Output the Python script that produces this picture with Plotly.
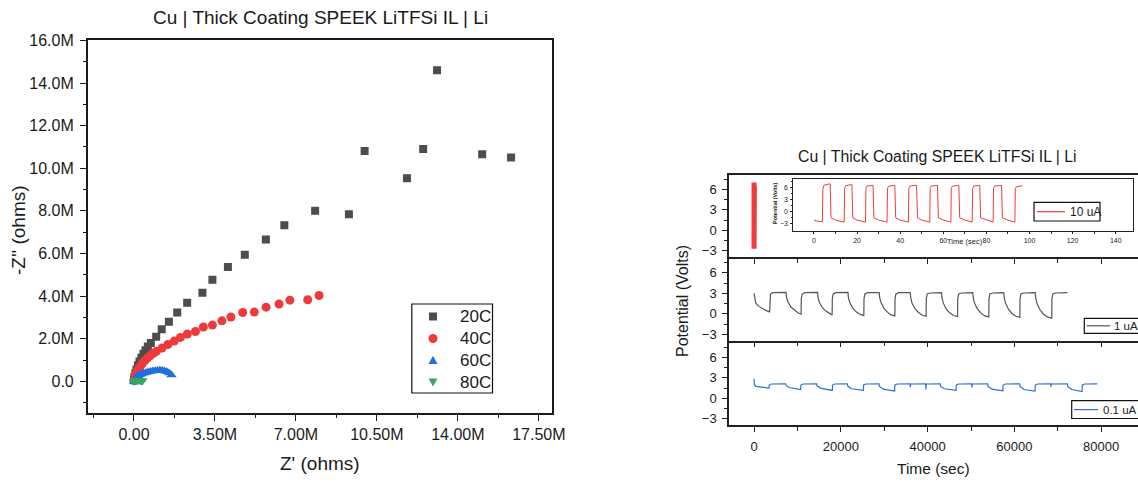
import plotly.graph_objects as go

W, H = 1138, 482
def fx(px): return px / W
def fy(py): return 1 - py / H

FONT = "Arial, 'Liberation Sans', sans-serif"
TXT = "#1a1a1a"

# ---------------- Left panel: Nyquist data (Z' and -Z'' in Mohm) ----------------
re20 = [0.00, 0.02, 0.06, 0.11, 0.17, 0.24, 0.32, 0.41, 0.50, 0.60,
        0.73, 0.96, 1.20, 1.51, 1.87, 2.30, 2.96, 3.39, 4.06, 4.79,
        5.70, 6.50, 7.83, 9.29, 9.97, 11.80, 12.50, 13.10, 15.05, 16.30]
im20 = [0.05, 0.20, 0.38, 0.56, 0.75, 0.93, 1.11, 1.29, 1.46, 1.63,
        1.80, 2.09, 2.44, 2.80, 3.23, 3.69, 4.16, 4.77, 5.36, 5.94,
        6.66, 7.33, 8.00, 7.84, 10.81, 9.53, 10.90, 14.60, 10.66, 10.50]

re40 = [0.00, 0.03, 0.08, 0.14, 0.21, 0.29, 0.37, 0.47, 0.58, 0.70,
        0.83, 0.97, 1.21, 1.47, 1.74, 2.01, 2.31, 2.66, 3.00, 3.39,
        3.80, 4.19, 4.70, 5.20, 5.71, 6.27, 6.74, 7.51, 8.00]
im40 = [0.05, 0.18, 0.33, 0.47, 0.60, 0.73, 0.85, 0.97, 1.09, 1.20,
        1.31, 1.41, 1.56, 1.73, 1.89, 2.06, 2.22, 2.34, 2.55, 2.64,
        2.84, 3.02, 3.23, 3.25, 3.48, 3.63, 3.81, 3.83, 4.03]

re60 = [0.00, 0.03, 0.07, 0.12, 0.18, 0.25, 0.33, 0.42, 0.52, 0.62,
        0.72, 0.82, 0.92, 1.02, 1.12, 1.22, 1.32, 1.42, 1.52, 1.62]
im60 = [0.00, 0.08, 0.15, 0.21, 0.26, 0.31, 0.35, 0.38, 0.41, 0.44,
        0.46, 0.48, 0.50, 0.51, 0.52, 0.51, 0.49, 0.45, 0.39, 0.30]

re80 = [0.00, 0.04, 0.08, 0.12, 0.16, 0.20, 0.24, 0.28, 0.32, 0.36]
im80 = [0.00, 0.02, 0.03, 0.04, 0.05, 0.05, 0.05, 0.04, 0.03, 0.02]

series_names = ["20C", "40C", "60C", "80C"]

nyq_xticks = [0, 3.5, 7, 10.5, 14, 17.5]
nyq_xlabels = ["0.00", "3.50M", "7.00M", "10.50M", "14.00M", "17.50M"]
nyq_yticks = [0, 2, 4, 6, 8, 10, 12, 14, 16]
nyq_ylabels = ["0.0", "2.0M", "4.0M", "6.0M", "8.0M", "10.0M", "12.0M", "14.0M", "16.0M"]

# ---------------- Right panel: potential vs time ----------------
# 10 uA (seconds, volts)
t10 = [0.0, 1.0, 3.9,
       4.1, 4.6, 7.5, 7.9, 10.0, 14.0,
       14.2, 14.7, 17.6, 18.0, 20.0, 23.9,
       24.1, 24.6, 27.4, 27.8, 30.0, 33.9,
       34.1, 34.6, 37.5, 37.9, 40.0, 43.8,
       44.0, 44.5, 47.6, 48.0, 50.0, 53.7,
       53.9, 54.4, 57.3, 57.7, 60.0, 63.5,
       63.7, 64.2, 67.2, 67.6, 70.0, 73.4,
       73.6, 74.1, 76.9, 77.3, 80.0, 83.1,
       83.3, 83.8, 87.0, 87.4, 90.0, 93.2,
       93.4, 93.9, 96.8]
v10 = [-2.2, -2.4, -2.6,
       5.6, 6.6, 7.0, -1.6, -2.2, -2.7,
       5.8, 6.5, 6.8, -1.6, -2.2, -2.7,
       5.8, 6.4, 6.6, -1.6, -2.2, -2.7,
       5.8, 6.4, 6.6, -1.6, -2.2, -2.7,
       5.8, 6.4, 6.6, -1.6, -2.2, -2.7,
       5.8, 6.4, 6.6, -1.6, -2.2, -2.7,
       5.8, 6.4, 6.6, -1.6, -2.2, -2.7,
       5.8, 6.4, 6.6, -1.6, -2.2, -2.7,
       5.8, 6.4, 6.6, -1.6, -2.2, -2.7,
       5.8, 6.2, 6.5]

# 1 uA
t1 = [0, 150, 400, 900, 1800, 2700, 3600,
      3650, 3800, 4300, 7400,
      7500, 7800, 8500, 9300, 10100, 10850,
      10900, 11100, 11700, 14650,
      14750, 15050, 15750, 16550, 17300, 18000,
      18050, 18250, 18900, 21650,
      21750, 22050, 22750, 23550, 24400, 25300,
      25350, 25550, 26200, 28850,
      28950, 29250, 29950, 30750, 31600, 32450,
      32500, 32700, 33350, 36000,
      36100, 36400, 37100, 37900, 38800, 39650,
      39700, 39900, 40550, 43200,
      43300, 43600, 44300, 45100, 46000, 46900,
      46950, 47150, 47800, 50400,
      50500, 50800, 51500, 52300, 53200, 54100,
      54150, 54350, 55000, 57550,
      57650, 57950, 58650, 59450, 60350, 61250,
      61300, 61500, 62150, 64800,
      64900, 65200, 65900, 66700, 67600, 68600,
      68650, 68850, 69500, 72200]
v1 = [3.0, 2.2, 1.6, 1.2, 0.8, 0.5, 0.3,
      2.2, 2.9, 3.1, 3.15,
      2.4, 1.8, 1.0, 0.5, 0.15, -0.05,
      2.2, 2.9, 3.1, 3.15,
      2.4, 1.7, 0.9, 0.4, 0.05, -0.15,
      2.2, 2.9, 3.1, 3.15,
      2.4, 1.7, 0.85, 0.3, -0.05, -0.25,
      2.2, 2.9, 3.1, 3.1,
      2.4, 1.7, 0.8, 0.25, -0.15, -0.3,
      2.2, 2.9, 3.1, 3.1,
      2.4, 1.6, 0.75, 0.2, -0.2, -0.35,
      2.2, 2.9, 3.05, 3.1,
      2.4, 1.6, 0.7, 0.15, -0.25, -0.4,
      2.2, 2.9, 3.05, 3.1,
      2.4, 1.6, 0.7, 0.1, -0.3, -0.45,
      2.2, 2.9, 3.05, 3.1,
      2.4, 1.6, 0.65, 0.05, -0.35, -0.5,
      2.2, 2.9, 3.05, 3.1,
      2.4, 1.5, 0.6, -0.05, -0.45, -0.65,
      2.2, 2.9, 3.05, 3.1]

# 0.1 uA
t01 = [0, 80, 400, 1500, 3450,
       3500, 4000, 7300,
       7400, 8300, 10750,
       10800, 11300, 14450,
       14550, 15500, 18050,
       18100, 18600, 21500,
       21600, 22500, 25200,
       25250, 25800, 28800,
       28900, 29800, 32400,
       32450, 33000, 35950,
       36000, 36100, 39550,
       39600, 39700, 42900,
       43000, 43900, 46550,
       46600, 47100, 50150,
       50200, 50300, 53850,
       53950, 54800, 57350,
       57400, 57900, 61200,
       61300, 62200, 64750,
       64800, 65300, 68350,
       68400, 68500, 72200,
       72300, 73200, 75600,
       75650, 76200, 79100]
v01 = [2.85, 2.0, 1.75, 1.62, 1.5,
       1.95, 2.1, 2.13,
       1.85, 1.55, 1.3,
       1.95, 2.1, 2.13,
       1.8, 1.45, 1.16,
       1.95, 2.1, 2.13,
       1.8, 1.4, 1.16,
       1.95, 2.1, 2.13,
       1.75, 1.35, 1.06,
       1.95, 2.1, 2.13,
       1.65, 2.1, 2.12,
       1.3, 2.1, 2.12,
       1.75, 1.4, 1.16,
       1.95, 2.1, 2.12,
       1.6, 2.1, 2.12,
       1.75, 1.35, 1.1,
       1.95, 2.1, 2.12,
       1.75, 1.3, 1.05,
       1.95, 2.1, 2.12,
       1.7, 2.1, 2.12,
       1.75, 1.3, 1.0,
       1.95, 2.1, 2.12]

time_ticks = [0, 20000, 40000, 60000, 80000]
time_labels = ["0", "20000", "40000", "60000", "80000"]
time_minor = [10000, 30000, 50000, 70000]
volt_ticks = [-3, 0, 3, 6]
volt_minor = [-1.5, 1.5, 4.5, 7.5]
inset_ticks = [0, 20, 40, 60, 80, 100, 120, 140]
inset_minor = [10, 30, 50, 70, 90, 110, 130]

C20, C40, C60, C80 = "#4d4d4d", "#ee3a3a", "#1f6fdf", "#34a863"
C10u, C1u, C01u = "#f03c3c", "#555555", "#2a6fdb"

fig = go.Figure()

# ---- left traces
fig.add_trace(go.Scatter(x=re20, y=im20, mode="markers", name=series_names[0],
                         marker=dict(symbol="square", size=8, color=C20), xaxis="x", yaxis="y"))
fig.add_trace(go.Scatter(x=re40, y=im40, mode="markers", name=series_names[1],
                         marker=dict(symbol="circle", size=9, color=C40), xaxis="x", yaxis="y"))
fig.add_trace(go.Scatter(x=re60, y=im60, mode="markers", name=series_names[2],
                         marker=dict(symbol="triangle-up", size=9, color=C60), xaxis="x", yaxis="y"))
fig.add_trace(go.Scatter(x=re80, y=im80, mode="markers", name=series_names[3],
                         marker=dict(symbol="triangle-down", size=9, color=C80), xaxis="x", yaxis="y"))

# ---- right traces
fig.add_trace(go.Scatter(x=t10, y=v10, mode="lines", line=dict(color=C10u, width=5),
                         name="10 uA", xaxis="x4", yaxis="y4"))
fig.add_trace(go.Scatter(x=t1, y=v1, mode="lines", line=dict(color=C1u, width=1.2),
                         name="1 uA", xaxis="x3", yaxis="y3"))
fig.add_trace(go.Scatter(x=t01, y=v01, mode="lines", line=dict(color=C01u, width=1.2),
                         name="0.1 uA", xaxis="x2", yaxis="y2"))
fig.add_trace(go.Scatter(x=t10, y=v10, mode="lines", line=dict(color=C10u, width=1),
                         name="10 uA inset", xaxis="x5", yaxis="y5"))

axcol = "#1a1a1a"
left_x = dict(domain=[fx(87.7), fx(551.8)], range=[-2.0, 18.06], showline=True, mirror=True,
              linecolor=axcol, linewidth=1.5, ticks="outside", ticklen=6, tickwidth=1.2,
              tickcolor=axcol, tickmode="array", tickvals=nyq_xticks, ticktext=nyq_xlabels,
              minor=dict(tickmode="array", tickvals=[-1.75, 1.75, 5.25, 8.75, 12.25, 15.75],
                         ticks="outside", ticklen=3, tickcolor=axcol),
              tickfont=dict(size=16, color=TXT, family=FONT), showgrid=False, zeroline=False,
              ticklabelstandoff=0, anchor="y")
left_y = dict(domain=[fy(413.3), fy(40.4)], range=[-1.5, 16.0], showline=True, mirror=True,
              linecolor=axcol, linewidth=1.5, ticks="outside", ticklen=6, tickwidth=1.2,
              tickcolor=axcol, tickmode="array", tickvals=nyq_yticks, ticktext=nyq_ylabels,
              minor=dict(tickmode="array", tickvals=[-1, 1, 3, 5, 7, 9, 11, 13, 15],
                         ticks="outside", ticklen=3, tickcolor=axcol),
              tickfont=dict(size=16, color=TXT, family=FONT), showgrid=False, zeroline=False,
              ticklabelstandoff=3, anchor="x")

XR = [-5760, 88480]
YR = [-3.9, 8.1]
def time_axis(dom_anchor, labels):
    return dict(domain=[fx(729), 1.0], range=XR, showline=True, mirror=True, linecolor="#222",
                linewidth=1.5, ticks="outside", ticklen=5, tickcolor="#222", tickmode="array",
                tickvals=time_ticks, ticktext=time_labels, showticklabels=labels,
                minor=dict(tickmode="array", tickvals=time_minor, ticks="outside", ticklen=4,
                           tickcolor="#222"),
                tickfont=dict(size=13, color=TXT, family=FONT), showgrid=False, zeroline=False,
                anchor=dom_anchor, ticklabelstandoff=4)
def volt_axis(top, bot, anchor):
    return dict(domain=[fy(bot), fy(top)], range=YR, showline=True, mirror=False, linecolor="#222",
                linewidth=1.5, ticks="outside", ticklen=5, tickcolor="#222", tickmode="array",
                tickvals=volt_ticks, minor=dict(tickmode="array", tickvals=volt_minor,
                                                ticks="outside", ticklen=3, tickcolor="#222"),
                tickfont=dict(size=13, color=TXT, family=FONT), showgrid=False, zeroline=False,
                anchor=anchor, ticklabelstandoff=3)

fig.update_layout(
    width=W, height=H, margin=dict(l=0, r=0, t=0, b=0, autoexpand=False),
    paper_bgcolor="white", plot_bgcolor="white", showlegend=False,
    font=dict(family=FONT, color=TXT),
    xaxis=left_x, yaxis=left_y,
    xaxis2=time_axis("y2", True), yaxis2=volt_axis(343, 425, "x2"),
    xaxis3=time_axis("y3", False), yaxis3=volt_axis(258.5, 340.5, "x3"),
    xaxis4=time_axis("y4", False), yaxis4=volt_axis(175, 257, "x4"),
    xaxis5=dict(domain=[fx(793.3), fx(1133)], range=[-9.6, 148], showline=True, mirror=True,
                linecolor="#222", linewidth=1, ticks="outside", ticklen=2, tickcolor="#222",
                tickmode="array", tickvals=inset_ticks,
                minor=dict(tickmode="array", tickvals=inset_minor, ticks="outside", ticklen=1.5,
                           tickcolor="#222"),
                tickfont=dict(size=7, color=TXT, family=FONT), showgrid=False, zeroline=False,
                anchor="y5", ticklabelstandoff=1),
    yaxis5=dict(domain=[fy(231), fy(179.3)], range=[-4.95, 8.12], showline=True, mirror=True,
                linecolor="#222", linewidth=1, ticks="outside", ticklen=2, tickcolor="#222",
                tickmode="array", tickvals=volt_ticks,
                minor=dict(tickmode="array", tickvals=volt_minor, ticks="outside", ticklen=1.5,
                           tickcolor="#222"),
                tickfont=dict(size=7, color=TXT, family=FONT), showgrid=False, zeroline=False,
                anchor="x5", ticklabelstandoff=1),
)

ann = []
def A(text, x, y, size, angle=0, xanchor="center", weight="normal"):
    ann.append(dict(text=text, x=fx(x), y=fy(y), xref="paper", yref="paper", showarrow=False,
                    xanchor=xanchor, yanchor="middle", textangle=angle,
                    font=dict(size=size, color=TXT, family=FONT, weight=weight)))

A("Cu | Thick Coating SPEEK LiTFSi IL | Li", 320, 18, 19)
A("-Z'' (ohms)", 18, 230, 19, angle=-90)
A("Z' (ohms)", 320, 463, 19)

A("Cu | Thick Coating SPEEK LiTFSi IL | Li", 937, 157, 15.8)
A("Potential (Volts)", 682, 301, 16, angle=-90)
A("Time (sec)", 933, 468, 15.5)
A("Time (sec)", 965, 241.5, 7.5)
A("Potential (Volts)", 775, 203, 5.5, angle=-90, weight="bold")
A("10 uA", 1068, 211.7, 12, xanchor="left")
A("1 uA", 1112, 325.8, 11.5, xanchor="left")
A("0.1 uA", 1101, 409.6, 11.5, xanchor="left")

shapes = []
def rect(x0, y0, x1, y1, lw=1.2):
    shapes.append(dict(type="rect", xref="paper", yref="paper", x0=fx(x0), x1=fx(x1),
                       y0=fy(y1), y1=fy(y0), line=dict(color="#111", width=lw),
                       fillcolor="white", layer="above"))
def seg(x0, x1, y, col):
    shapes.append(dict(type="line", xref="paper", yref="paper", x0=fx(x0), x1=fx(x1),
                       y0=fy(y), y1=fy(y), line=dict(color=col, width=1.2), layer="above"))
def key(kind, cx, cy, col, s=4.5):
    if kind == "square":
        shapes.append(dict(type="rect", xref="paper", yref="paper", x0=fx(cx - 4), x1=fx(cx + 4),
                           y0=fy(cy + 4), y1=fy(cy - 4), fillcolor=col, line=dict(width=0),
                           layer="above"))
    elif kind == "circle":
        shapes.append(dict(type="circle", xref="paper", yref="paper", x0=fx(cx - s), x1=fx(cx + s),
                           y0=fy(cy + s), y1=fy(cy - s), fillcolor=col, line=dict(width=0),
                           layer="above"))
    else:
        d = -1 if kind == "up" else 1
        p = "M {:.5f},{:.5f} L {:.5f},{:.5f} L {:.5f},{:.5f} Z".format(
            fx(cx), fy(cy + d * s), fx(cx - s), fy(cy - d * s * 0.8), fx(cx + s), fy(cy - d * s * 0.8))
        shapes.append(dict(type="path", xref="paper", yref="paper", path=p, fillcolor=col,
                           line=dict(width=0), layer="above"))

# left legend
rect(411.8, 304, 492.5, 393)
leg_y = [316.5, 338.5, 360.3, 382]
key("square", 433, leg_y[0], C20)
key("circle", 433, leg_y[1], C40)
key("up", 433, leg_y[2], C60)
key("down", 433, leg_y[3], C80)
for nm, yy in zip(series_names, leg_y):
    A(nm, 458, yy, 17, xanchor="left")

# right legends
rect(1034, 202.3, 1100, 221)
seg(1037, 1065, 211.7, C10u)
rect(1084.3, 318.3, 1160, 333.3)
seg(1086.7, 1110, 325.8, C1u)
rect(1071.7, 400.7, 1160, 418.5)
seg(1074, 1098, 409.6, C01u)

fig.update_layout(annotations=ann, shapes=shapes)
fig.write_html("out.html")
